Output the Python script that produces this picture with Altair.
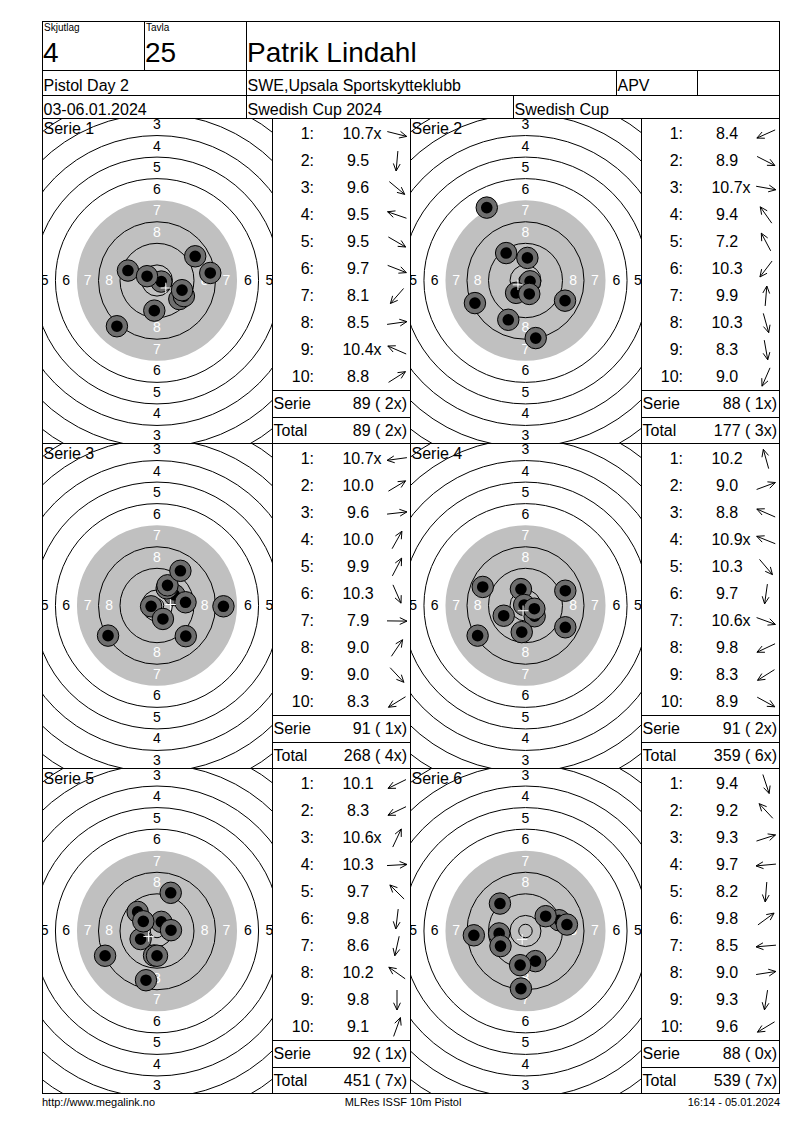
import altair as alt
import pandas as pd

# ---------------- data read from the score card ----------------
squad_label = "Skjutlag"
squad_value = "4"
target_label = "Tavla"
target_value = "25"
shooter_name = "Patrik Lindahl"
row2_texts = ["Pistol Day 2", "SWE,Upsala Sportskytteklubb", "APV", ""]
row3_texts = ["03-06.01.2024", "Swedish Cup 2024", "Swedish Cup"]
footer_texts = ["http://www.megalink.no", "MLRes ISSF 10m Pistol", "16:14 - 05.01.2024"]

serie_names = ["Serie 1", "Serie 2", "Serie 3", "Serie 4", "Serie 5", "Serie 6"]

# shot scores, inner-ten flags and impact positions (mm from centre, y up)
scores_s1 = [10.7, 9.5, 9.6, 9.5, 9.5, 9.7, 8.1, 8.5, 10.4, 8.8]
inner_s1 = [1, 0, 0, 0, 0, 0, 0, 0, 1, 0]
x_s1 = [1.6, -1.0, 8.3, -10.8, 10.0, 9.3, -14.9, 19.8, -3.7, 14.2]
y_s1 = [-0.4, -11.2, -6.9, 3.7, -5.8, -3.6, -17.0, 2.8, 1.6, 9.0]

scores_s2 = [8.4, 8.9, 10.7, 9.4, 7.2, 10.3, 9.9, 10.3, 8.3, 9.0]
inner_s2 = [0, 0, 1, 0, 0, 0, 0, 0, 0, 0]
x_s2 = [-18.8, 14.7, 1.7, -7.2, -14.4, -3.5, 0.7, 1.4, 3.8, -6.4]
y_s2 = [-8.4, -7.5, -0.3, 10.2, 27.1, -4.6, 8.4, -5.0, -21.4, -14.6]

scores_s3 = [10.7, 10.0, 9.6, 10.0, 9.9, 10.3, 7.9, 9.0, 9.0, 8.3]
inner_s3 = [1, 0, 0, 0, 0, 0, 0, 0, 0, 0]
x_s3 = [-2.2, 6.5, 10.6, 3.6, 3.9, 2.2, 24.7, 8.7, 10.7, -18.2]
y_s3 = [-0.3, 3.9, 1.2, 6.4, 7.5, -5.0, -0.3, 12.9, -11.4, -11.2]

scores_s4 = [10.2, 9.0, 8.8, 10.9, 10.3, 9.7, 10.6, 9.8, 8.3, 8.9]
inner_s4 = [0, 0, 0, 1, 0, 0, 1, 0, 0, 0]
x_s4 = [-1.7, 14.8, -15.9, -0.5, 3.4, -1.4, 3.3, -8.1, -17.8, 14.8]
y_s4 = [6.1, 5.5, 6.9, 0.2, -4.0, -9.9, -1.2, -3.8, -11.2, -8.1]

scores_s5 = [10.1, 8.3, 10.6, 10.3, 9.7, 9.8, 8.6, 10.2, 9.8, 9.1]
inner_s5 = [0, 0, 1, 0, 0, 0, 0, 0, 0, 0]
x_s5 = [-6.1, -19.3, 1.6, 5.2, -7.2, -1.1, -4.1, -5.1, 0.0, 5.1]
y_s5 = [-3.0, -9.2, 3.4, 0.3, 7.1, -9.1, -18.3, 3.6, -9.2, 14.2]

scores_s6 = [9.4, 9.2, 9.3, 9.7, 8.2, 9.8, 8.5, 9.0, 9.3, 9.6]
inner_s6 = [0, 0, 0, 0, 0, 0, 0, 0, 0, 0]
x_s6 = [3.7, -9.5, 12.5, -9.8, -1.7, 7.5, -19.2, 15.4, -2.0, -9.3]
y_s6 = [-11.2, 10.2, 4.0, -0.9, -21.4, 5.5, -1.6, 2.4, -12.7, -5.6]

serie_scores = [89, 88, 91, 91, 92, 88]
serie_inner = [2, 1, 1, 2, 1, 0]
total_scores = [89, 177, 268, 359, 451, 539]
total_inner = [2, 3, 4, 6, 7, 7]

# ISSF 10m air pistol target (ring radius in mm)
ring_numbers = [1, 2, 3, 4, 5, 6, 7, 8, 9, 10]
ring_radius_mm = [77.75, 69.75, 61.75, 53.75, 45.75, 37.75, 29.75, 21.75, 13.75, 5.75]
inner_ten_radius_mm = 2.5
zone_labels = [3, 4, 5, 6, 7, 8]

# ---------------- tables built from the arrays ----------------
all_scores = [scores_s1, scores_s2, scores_s3, scores_s4, scores_s5, scores_s6]
all_inner = [inner_s1, inner_s2, inner_s3, inner_s4, inner_s5, inner_s6]
all_x = [x_s1, x_s2, x_s3, x_s4, x_s5, x_s6]
all_y = [y_s1, y_s2, y_s3, y_s4, y_s5, y_s6]

rows = []
for s in range(6):
    for n in range(10):
        rows.append(dict(serie=s + 1, n=n + 1, score=all_scores[s][n],
                         inner=all_inner[s][n], x=all_x[s][n], y=all_y[s][n]))
shots_df = pd.DataFrame(rows)

srows = []
for s in range(6):
    srows.append(dict(serie=s + 1, row=11, lab="Serie",
                      val=f"{serie_scores[s]} ({serie_inner[s]:2d}x)"))
    srows.append(dict(serie=s + 1, row=12, lab="Total",
                      val=f"{total_scores[s]} ({total_inner[s]:2d}x)"))
sums_df = pd.DataFrame(srows)
sep_df = pd.DataFrame({"b": [10.5, 11.5]})  # boundaries: shot rows | Serie | Total

rings_df = pd.DataFrame({"ring": ring_numbers + [11],
                         "r": ring_radius_mm + [inner_ten_radius_mm]})

radius_of = dict(zip(ring_numbers, ring_radius_mm))
zrows = []
for z in zone_labels:
    rm = (radius_of[z] + radius_of[z + 1]) / 2
    for dx, dy in [(0, 1), (0, -1), (1, 0), (-1, 0)]:
        zrows.append(dict(zone=z, lx=dx * rm, ly=dy * rm))
zone_df = pd.DataFrame(zrows)

one_df = pd.DataFrame({"k": [0]})

# ---------------- layout constants ----------------
PX_MM = 2.69
TABLE_W = 138
ROW_PX = 27.0
ROW_FIRST = 16.0
ROW_TOP = 1 - ROW_FIRST / ROW_PX
TARGET_GRAY = "#c0c0c0"
SHOT_GRAY = "#6e6e6e"
FONT = "Liberation Sans"


def borders(w, h, right=False, bottom=False):
    """Cell frame: left and top edge always, right / bottom on the outer edge."""
    base = alt.Chart(one_df).mark_rule(color="black", strokeWidth=1, clip=True)
    out = [base.encode(x=alt.value(0.5), y=alt.value(0), y2=alt.value(h)),
           base.encode(x=alt.value(0), x2=alt.value(w), y=alt.value(0.5))]
    if right:
        out.append(base.encode(x=alt.value(w - 0.5), y=alt.value(0), y2=alt.value(h)))
    if bottom:
        out.append(base.encode(x=alt.value(0), x2=alt.value(w), y=alt.value(h - 0.5)))
    return out


def target(s, w, h, bottom):
    xd = w / 2 / PX_MM
    yd = h / 2 / PX_MM
    xsc = alt.Scale(domain=[-xd, xd], nice=False, zero=False)
    ysc = alt.Scale(domain=[-yd, yd], nice=False, zero=False)

    def xy(xf, yf):
        return dict(x=alt.X(f"{xf}:Q", scale=xsc, axis=None),
                    y=alt.Y(f"{yf}:Q", scale=ysc, axis=None))

    ring_base = alt.Chart(rings_df).transform_calculate(
        cx="0", cy="0", sz=f"pow(2 * datum.r * {PX_MM}, 2)")
    disk = ring_base.transform_filter("datum.ring == 7").mark_circle(
        color=TARGET_GRAY, opacity=1, clip=True).encode(
        **xy("cx", "cy"), size=alt.Size("sz:Q", scale=None))
    lines = ring_base.transform_filter("datum.ring != 7").mark_point(
        shape="circle", filled=False, color="black", strokeWidth=1,
        opacity=1, clip=True).encode(**xy("cx", "cy"), size=alt.Size("sz:Q", scale=None))
    labels = alt.Chart(zone_df).transform_calculate(
        col="datum.zone >= 7 ? 'white' : 'black'").mark_text(
        fontSize=14, align="center", baseline="middle", clip=True).encode(
        **xy("lx", "ly"), text="zone:N", color=alt.Color("col:N", scale=None))

    shot_layers = []
    for n in range(1, 11):
        b = alt.Chart(shots_df).transform_filter(f"datum.serie == {s} && datum.n == {n}")
        shot_layers.append(b.mark_point(
            shape="circle", filled=True, fill=SHOT_GRAY, stroke="black",
            strokeWidth=1, size=460, opacity=1, clip=True).encode(**xy("x", "y")))
        shot_layers.append(b.mark_point(
            shape="circle", filled=True, fill="black", size=135,
            opacity=1, clip=True).encode(**xy("x", "y")))

    cross = alt.Chart(shots_df).transform_filter(f"datum.serie == {s}").transform_aggregate(
        mx="mean(x)", my="mean(y)").mark_point(
        shape="M-1,0L1,0M0,-1L0,1", filled=False, color="white", strokeWidth=1,
        size=110, opacity=1, clip=True).encode(**xy("mx", "my"))

    title = alt.Chart(pd.DataFrame({"t": [serie_names[s - 1]]})).mark_text(
        align="left", baseline="alphabetic", fontSize=16, color="black", clip=True).encode(
        x=alt.value(1.5), y=alt.value(16), text="t:N")

    return alt.layer(disk, lines, labels, *shot_layers, cross, title,
                     *borders(w, h, bottom=bottom)).properties(width=w, height=h)


def table(s, w, h, right, bottom):
    xsc = alt.Scale(domain=[0, w], nice=False, zero=False)
    ysc = alt.Scale(domain=[ROW_TOP, ROW_TOP + h / ROW_PX], nice=False, zero=False,
                    reverse=True)
    base = alt.Chart(shots_df).transform_filter(f"datum.serie == {s}")
    Y = alt.Y("n:Q", scale=ysc, axis=None)
    num = base.transform_calculate(lab="datum.n + ':'").mark_text(
        align="right", baseline="middle", fontSize=16, clip=True).encode(
        x=alt.value(42), y=Y, text="lab:N")
    val = base.mark_text(align="center", baseline="middle", fontSize=16, clip=True).encode(
        x=alt.value(86), y=Y, text=alt.Text("score:Q", format=".1f"))
    xm = base.transform_filter("datum.inner == 1").mark_text(
        align="left", baseline="middle", fontSize=16, text="x", clip=True).encode(
        x=alt.value(101.5), y=Y)

    AX, HL, B, BA = 125, 10, 8, 0.44
    arr = base.transform_calculate(
        a="atan2(-datum.y, datum.x)",
        tipx=f"{AX} + {HL} * cos(datum.a)",
        tipy=f"datum.n + {HL} * sin(datum.a) / {ROW_PX}",
        tailx=f"{AX} - {HL} * cos(datum.a)",
        taily=f"datum.n - {HL} * sin(datum.a) / {ROW_PX}",
        b1x=f"datum.tipx - {B} * cos(datum.a - {BA})",
        b1y=f"datum.tipy - {B} * sin(datum.a - {BA}) / {ROW_PX}",
        b2x=f"datum.tipx - {B} * cos(datum.a + {BA})",
        b2y=f"datum.tipy - {B} * sin(datum.a + {BA}) / {ROW_PX}",
    )

    def seg(x1, y1, x2, y2):
        return arr.mark_rule(color="black", strokeWidth=1, clip=True).encode(
            x=alt.X(f"{x1}:Q", scale=xsc, axis=None),
            y=alt.Y(f"{y1}:Q", scale=ysc, axis=None),
            x2=f"{x2}:Q", y2=f"{y2}:Q")

    sb = alt.Chart(sums_df).transform_filter(f"datum.serie == {s}")
    RY = alt.Y("row:Q", scale=ysc, axis=None)
    sum_lab = sb.mark_text(align="left", baseline="middle", fontSize=16, clip=True).encode(
        x=alt.value(1.5), y=RY, text="lab:N")
    sum_val = sb.mark_text(align="right", baseline="middle", fontSize=16, clip=True).encode(
        x=alt.value(w - 3), y=RY, text="val:N")
    seps = alt.Chart(sep_df).mark_rule(color="black", strokeWidth=1, clip=True).encode(
        x=alt.value(0), x2=alt.value(w), y=alt.Y("b:Q", scale=ysc, axis=None))

    return alt.layer(num, val, xm,
                     seg("tailx", "taily", "tipx", "tipy"),
                     seg("tipx", "tipy", "b1x", "b1y"),
                     seg("tipx", "tipy", "b2x", "b2y"),
                     seps, sum_lab, sum_val,
                     *borders(w, h, right=right, bottom=bottom)).properties(width=w, height=h)


def text_cell(w, h, items, right=False):
    layers = []
    for txt, x, y, size in items:
        layers.append(alt.Chart(pd.DataFrame({"t": [txt]})).mark_text(
            align="left", baseline="alphabetic", fontSize=size, clip=True).encode(
            x=alt.value(x), y=alt.value(y), text="t:N"))
    return alt.layer(*layers, *borders(w, h, right=right)).properties(width=w, height=h)


hdr1 = alt.hconcat(
    text_cell(102, 49, [(squad_label, 2, 9.5, 10), (squad_value, 1, 40.5, 28)]),
    text_cell(102, 49, [(target_label, 2, 9.5, 10), (target_value, 1, 40.5, 28)]),
    text_cell(534, 49, [(shooter_name, 1, 40.5, 28)], right=True),
    spacing=0)
hdr2 = alt.hconcat(
    text_cell(204, 25, [(row2_texts[0], 1.5, 21, 16)]),
    text_cell(370, 25, [(row2_texts[1], 1.5, 21, 16)]),
    text_cell(81, 25, [(row2_texts[2], 1.5, 21, 16)]),
    text_cell(83, 25, [(row2_texts[3], 1.5, 21, 16)], right=True),
    spacing=0)
hdr3 = alt.hconcat(
    text_cell(204, 23, [(row3_texts[0], 1.5, 20, 16)]),
    text_cell(267, 23, [(row3_texts[1], 1.5, 20, 16)]),
    text_cell(267, 23, [(row3_texts[2], 1.5, 20, 16)], right=True),
    spacing=0)

grid_rows = []
for r in range(3):
    s1, s2 = 2 * r + 1, 2 * r + 2
    last = r == 2
    h = 326 if last else 325
    grid_rows.append(alt.hconcat(
        target(s1, 230, h, last), table(s1, 138, h, False, last),
        target(s2, 231, h, last), table(s2, 139, h, True, last),
        spacing=0))

fdf = pd.DataFrame({"t": footer_texts})
foot_l = alt.Chart(fdf).transform_filter(f"datum.t == '{footer_texts[0]}'").mark_text(
    align="left", baseline="middle", fontSize=11).encode(x=alt.value(0), y=alt.value(9), text="t:N")
foot_c = alt.Chart(fdf).transform_filter(f"datum.t == '{footer_texts[1]}'").mark_text(
    align="center", baseline="middle", fontSize=11).encode(x=alt.value(361), y=alt.value(9), text="t:N")
foot_r = alt.Chart(fdf).transform_filter(f"datum.t == '{footer_texts[2]}'").mark_text(
    align="right", baseline="middle", fontSize=11).encode(x=alt.value(738), y=alt.value(9), text="t:N")
footer = alt.layer(foot_l, foot_c, foot_r).properties(width=738, height=20)

chart = alt.vconcat(hdr1, hdr2, hdr3, *grid_rows, footer, spacing=0).properties(
    padding={"left": 34, "top": 13, "right": 5, "bottom": 5}
).configure(font=FONT).configure_view(stroke="transparent", strokeWidth=0)

chart.save("out.html", embed_options={"renderer": "svg", "actions": False})
